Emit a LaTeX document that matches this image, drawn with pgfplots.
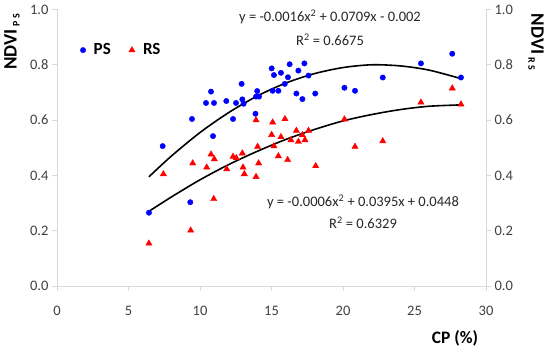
\documentclass[border=0pt]{standalone}
\usepackage{pgfplots}
\pgfplotsset{compat=1.18}
\usepackage{fontspec}
\setmainfont{Carlito}
\definecolor{axgray}{RGB}{217,217,217}
\definecolor{tickgray}{RGB}{64,64,64}
\definecolor{psblue}{RGB}{0,0,255}
\definecolor{rsred}{RGB}{255,0,0}
\begin{document}
\begin{tikzpicture}
\path[use as bounding box] (0,0) rectangle (550bp,356bp);
\pgfplotsset{
  common/.style={
    at={(57bp,70bp)}, anchor=south west, scale only axis,
    width=429bp, height=276.5bp,
    xmin=0, xmax=30, ymin=0, ymax=1,
    xtick={0,5,...,30}, ytick={0,0.2,0.4,0.6,0.8,1.0},
    axis line style={axgray, line width=0.8bp, -},
    tick style={axgray, line width=0.8bp},
    tick align=outside, major tick length=5bp,
    /pgf/number format/assume math mode=true,
    ticklabel style={font=\fontsize{14.5bp}{16bp}\selectfont, text=tickgray},
    y tick label style={/pgf/number format/fixed, /pgf/number format/fixed zerofill, /pgf/number format/precision=1},
    x tick label style={yshift=-12bp},
    clip=false,
  }
}
\begin{axis}[common,
  axis x line*=bottom, axis y line*=left,
  legend columns=2,
  legend style={at={(axis description cs:0.047,0.853)}, anchor=west, draw=none, fill=none,
    font=\bfseries\fontsize{17bp}{18bp}\selectfont,
    /tikz/every odd column/.append style={column sep=6bp},
    /tikz/every even column/.append style={column sep=16bp}},
  legend cell align=left,
]
\addplot[only marks, mark=*, mark size=2.7bp, draw=psblue, fill=psblue, mark options={draw=psblue, fill=psblue}] coordinates {
(6.43,0.265) (7.39,0.506) (9.32,0.303) (9.44,0.604) (10.42,0.662) (10.77,0.703)
(10.98,0.662) (10.91,0.542) (11.84,0.669) (12.31,0.604) (12.52,0.662) (12.91,0.731)
(12.96,0.675) (13.05,0.659) (13.88,0.623) (14.0,0.705) (13.92,0.685) (14.13,0.685)
(15.01,0.787) (15.17,0.763) (15.08,0.706) (15.48,0.706) (15.66,0.771) (15.93,0.731)
(16.15,0.755) (16.27,0.802) (16.88,0.779) (17.3,0.805) (17.59,0.761) (16.74,0.696)
(17.16,0.676) (18.06,0.696) (20.1,0.717) (20.84,0.706) (22.78,0.754) (25.45,0.805)
(27.64,0.840) (28.25,0.754)
};
\addplot[only marks, mark=triangle*, mark size=3.6bp, draw=rsred, fill=rsred, mark options={draw=rsred, fill=rsred}] coordinates {
(6.43,0.154) (7.44,0.405) (9.35,0.201) (9.49,0.444) (10.47,0.429) (10.77,0.476)
(10.96,0.315) (11.0,0.459) (11.87,0.423) (12.31,0.468) (12.54,0.463) (12.96,0.480)
(13.01,0.429) (13.1,0.405) (13.92,0.600) (13.92,0.395) (14.03,0.504) (14.1,0.444)
(15.01,0.547) (15.08,0.592) (15.17,0.506) (15.48,0.470) (15.66,0.539) (15.94,0.604)
(16.13,0.456) (16.36,0.528) (16.74,0.562) (16.88,0.522) (17.16,0.546) (17.34,0.528)
(17.59,0.562) (18.09,0.434) (20.1,0.603) (20.84,0.504) (22.78,0.524) (25.45,0.664)
(27.64,0.715) (28.25,0.657)
};
\addplot[forget plot, smooth, black, line width=1.6bp] coordinates {
(6.43,0.395) (8,0.470) (10,0.555) (12,0.627) (14,0.687) (16,0.734) (18,0.768)
(20,0.790) (22,0.800) (24,0.796) (26,0.781) (28.25,0.750)
};
\addplot[forget plot, smooth, black, line width=1.6bp] coordinates {
(6.43,0.270) (8,0.322) (10,0.384) (12,0.439) (14,0.487) (16,0.530) (18,0.566)
(20,0.597) (22,0.620) (24,0.638) (26,0.650) (28.25,0.655)
};
\legend{PS, RS}
\end{axis}
\begin{axis}[common,
  axis y line*=right, axis x line=none,
]
\addplot[draw=none, forget plot] coordinates {(0,0) (30,1)};
\end{axis}
% texts
\node[font=\fontsize{14.5bp}{16bp}\selectfont, text=black!85] at (330bp,339bp) {y = -0.0016x\textsuperscript{2} + 0.0709x - 0.002};
\node[font=\fontsize{14.5bp}{16bp}\selectfont, text=black!85] at (330bp,316bp) {R\textsuperscript{2} = 0.6675};
\node[font=\fontsize{14.5bp}{16bp}\selectfont, text=black!85] at (363bp,154bp) {y = -0.0006x\textsuperscript{2} + 0.0395x + 0.0448};
\node[font=\fontsize{14.5bp}{16bp}\selectfont, text=black!85] at (363bp,133bp) {R\textsuperscript{2} = 0.6329};
\node[font=\bfseries\fontsize{17.5bp}{19bp}\selectfont] at (455bp,18bp) {CP (\%)};
\node[rotate=90, inner sep=0pt] at (12bp,314bp) {\bfseries\fontsize{19bp}{20bp}\selectfont NDVI\,\raisebox{-0.3ex}{\fontsize{10bp}{11bp}\selectfont P S}};
\node[rotate=-90, inner sep=0pt] at (536bp,314bp) {\bfseries\fontsize{19bp}{20bp}\selectfont NDVI\,\raisebox{-0.3ex}{\fontsize{10bp}{11bp}\selectfont R S}};
\end{tikzpicture}
\end{document}
